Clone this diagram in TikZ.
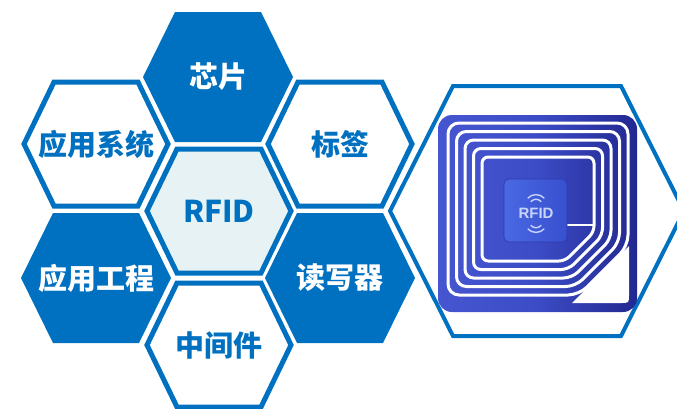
\documentclass[tikz,border=0pt]{standalone}
\usepackage{fontspec}
\setmainfont{Noto Sans CJK SC}
\newfontfamily\tagfont{Liberation Sans}
\definecolor{hexblue}{HTML}{0070C0}
\definecolor{corefill}{HTML}{E6F2F3}
\definecolor{tagleft}{RGB}{70,86,208}
\definecolor{tagmid}{RGB}{60,76,198}
\definecolor{tagright}{RGB}{34,40,144}
\definecolor{chipA}{RGB}{74,104,228}
\definecolor{chipB}{RGB}{56,80,206}
\definecolor{chipedge}{RGB}{44,58,170}
\definecolor{chiptext}{RGB}{200,212,248}
\tikzset{
  pics/hexa/.style n args={3}{code={
    \path[pic actions] (-#1,0) -- (-#2,-#3) -- (#2,-#3) -- (#1,0) -- (#2,#3) -- (-#2,#3) -- cycle;}},
  hexline/.style={draw=hexblue, line width=5pt, line join=miter},
  hexsolid/.style={fill=hexblue},
  lbl/.style={font=\bfseries\fontsize{29}{32}\selectfont, inner sep=0pt},
  lblw/.style={lbl, text=white},
  lblb/.style={lbl, text=hexblue},
  loopline/.style={draw=white, line width=3pt},
  wave/.style={draw=chiptext, line width=1.4pt, line cap=round},
}
\begin{document}
\begin{tikzpicture}[x=1pt, y=-1pt]
\useasboundingbox (0,0) rectangle (677,408);

% honeycomb centres
\coordinate (c-chip) at (218,77);
\coordinate (c-core) at (219,211);
\coordinate (c-mid)  at (219,345);
\coordinate (c-sys)  at (96,144);
\coordinate (c-eng)  at (96,278);
\coordinate (c-tag)  at (340,144);
\coordinate (c-rw)   at (340,278);
\coordinate (c-big)  at (537,211);

% honeycomb cells
\pic[hexsolid] at (c-chip) {hexa={75}{43}{65}};
\pic[hexsolid] at (c-eng)  {hexa={75}{43}{65}};
\pic[hexsolid] at (c-rw)   {hexa={75}{43}{65}};
\pic[hexline, fill=corefill] at (c-core) {hexa={72}{42}{62}};
\pic[hexline, fill=white] at (c-mid) {hexa={72}{42}{62}};
\pic[hexline, fill=white] at (c-sys) {hexa={72}{42}{62}};
\pic[hexline, fill=white] at (c-tag) {hexa={72}{42}{62}};

% large frame on the right
\pic[draw=hexblue, line width=4pt, line join=miter] at (c-big) {hexa={147}{84}{125}};

% labels
\node[lblw] (t-chip) at (c-chip) {芯片};
\node[lblw] (t-eng)  at (c-eng)  {应用工程};
\node[lblw] (t-rw)   at (c-rw)   {读写器};
\node[lblb] (t-sys)  at (c-sys)  {应用系统};
\node[lblb] (t-tag)  at (c-tag)  {标签};
\node[lblb] (t-mid)  at (c-mid)  {中间件};
\node[lblb, font=\bfseries\fontsize{30}{32}\selectfont] (t-core) at (c-core) {RFID};

% RFID tag: substrate
\shade[left color=tagleft, right color=tagright, middle color=tagmid, rounded corners=14pt]
  (438,115) rectangle (637,312);

% antenna windings with chamfered lower-right corner
\foreach \i in {0,...,4}{
  \pgfmathsetmacro\L{448+8.5*\i}
  \pgfmathsetmacro\T{123+8.5*\i}
  \pgfmathsetmacro\R{628-8.5*\i}
  \pgfmathsetmacro\B{295-8.5*\i}
  \pgfmathsetmacro\yA{246-3.5*\i}
  \pgfmathsetmacro\xB{579-3.5*\i}
  \pgfmathsetmacro\M{(\T+\B)/2}
  \pgfmathsetmacro\rad{11-1.2*\i}
  \draw[loopline, rounded corners=\rad pt]
    (\L,\M) -- (\L,\B) -- (\xB,\B) -- (\R,\yA) -- (\R,\T) -- (\L,\T) -- cycle;
}

% white corner pad
\fill[white] (629,246) -- (629,295) .. controls (629,303) .. (621,303) -- (572,303) -- cycle;

% chip and its lead
\coordinate (lead) at (594,225);
\draw[loopline, line width=2.5pt] (567,225) -- (lead);
\node[minimum size=63pt, inner sep=0pt, rounded corners=5pt, draw=chipedge, line width=0.6pt,
      left color=chipA, right color=chipB] (tagchip) at (535.5,210.5) {};
\node[text=chiptext, font=\tagfont\bfseries\fontsize{15}{16}\selectfont, inner sep=0pt]
  (chiplabel) at (536,213.5) {RFID};

% signal waves above and below the chip label
\draw[wave] (528,198) .. controls (532,193.5) and (540,193.5) .. (544,198);
\draw[wave] (531,201.5) .. controls (534,198.5) and (538,198.5) .. (541,201.5);
\draw[wave] (531,225.5) .. controls (534,228.5) and (538,228.5) .. (541,225.5);
\draw[wave] (528,229) .. controls (532,233.5) and (540,233.5) .. (544,229);
\end{tikzpicture}
\end{document}
